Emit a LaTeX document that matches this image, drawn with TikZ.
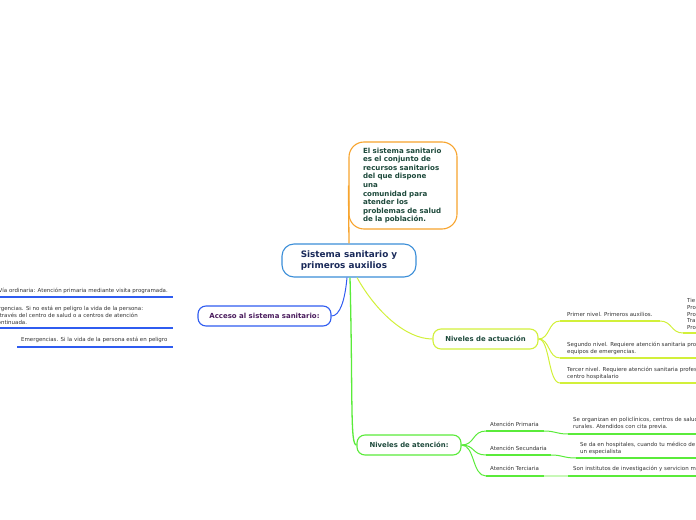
\documentclass[tikz,border=0pt]{standalone}
\usepackage{fontspec}
\setmainfont{DejaVu Sans}
\definecolor{orangec}{HTML}{F7A42E}
\definecolor{centralc}{HTML}{3B8ED8}
\definecolor{navyc}{HTML}{1A2A5A}
\definecolor{bluec}{HTML}{2F5CF0}
\definecolor{purplec}{HTML}{4B1D5E}
\definecolor{yellowc}{HTML}{D2F03A}
\definecolor{greenc}{HTML}{5AEB3A}
\definecolor{lightgreenc}{HTML}{C8F8B8}
\definecolor{darkgreenc}{HTML}{1E4A3C}
\definecolor{leafc}{HTML}{333333}
\begin{document}
\begin{tikzpicture}[x=1bp,y=-1bp,
  topic/.style={draw, fill=white, line width=1.1bp, inner sep=0pt, align=center},
  leaf/.style={anchor=west, inner sep=0pt, align=left, text=leafc, font=\fontsize{5.5}{6.8}\selectfont},
  conn/.style={line width=1bp},
  uline/.style={line width=2bp}]
\useasboundingbox (0,0) rectangle (696,520);
\clip (0,0) rectangle (696,520);

% main nodes
\node[topic, draw=centralc, rounded corners=12bp, minimum width=134bp, minimum height=33bp,
  text=navyc, font=\bfseries\fontsize{8.9}{11}\selectfont, align=left] (central) at (349,260.5)
  {Sistema sanitario y\\primeros auxilios};
\node[topic, draw=orangec, rounded corners=15bp, minimum width=108bp, minimum height=87bp,
  text width=80bp, inner xsep=14bp, align=left, text=darkgreenc,
  font=\bfseries\fontsize{7.1}{8.6}\selectfont] (def) at (403,185.5)
  {El sistema sanitario\\es el conjunto de\\recursos sanitarios\\del que dispone\\una\\comunidad para\\atender los\\problemas de salud\\de la población.};
\node[topic, draw=bluec, rounded corners=8bp, minimum width=133bp, minimum height=20bp,
  text=purplec, font=\bfseries\fontsize{7}{8}\selectfont] (acceso) at (264.5,316)
  {Acceso al sistema sanitario:};
\node[topic, draw=yellowc, rounded corners=8bp, minimum width=105bp, minimum height=20bp,
  text=darkgreenc, font=\bfseries\fontsize{6.9}{8}\selectfont] (actuacion) at (485.5,339)
  {Niveles de actuación};
\node[topic, draw=greenc, rounded corners=8bp, minimum width=104bp, minimum height=20bp,
  text=darkgreenc, font=\bfseries\fontsize{6.9}{8}\selectfont] (atencion) at (409,445)
  {Niveles de atención:};

% main connectors
\draw[conn, orangec, line width=1.3bp] (central.north) -- (def.west);
\draw[conn, bluec] ([xshift=-2bp]central.south) .. controls (345,300) and (340,316) .. (acceso.east);
\draw[conn, yellowc] ([xshift=8bp]central.south) .. controls (375,310) and (405,339) .. (actuacion.west);
\draw[conn, greenc, line width=1.3bp] ([xshift=1bp]central.south) .. controls (353,400) and (350,445) .. (atencion.west);

% left leaves (Acceso)
\node[leaf] (l1) at (-1.5,291) {Vía ordinaria: Atención primaria mediante visita programada.};
\coordinate (l1a) at (0,297); \coordinate (l1b) at (173,297);
\draw[uline, bluec] (l1a) -- (l1b);
\node[leaf] (l2) at (-5.5,315.5) {Urgencias. Si no está en peligro la vida de la persona:\\a través del centro de salud o a centros de atención\\continuada.};
\coordinate (l2a) at (0,328); \coordinate (l2b) at (173,328);
\draw[uline, bluec] (l2a) -- (l2b);
\node[leaf] (l3) at (21,340) {Emergencias. Si la vida de la persona está en peligro};
\coordinate (l3a) at (17,347); \coordinate (l3b) at (173,347);
\draw[uline, bluec] (l3a) -- (l3b);

% Niveles de actuación leaves
\coordinate (p1a) at (560,321); \coordinate (p1b) at (660,321);
\coordinate (p2a) at (560,358); \coordinate (p2b) at (696,358);
\coordinate (p3a) at (560,383); \coordinate (p3b) at (696,383);
\coordinate (p4a) at (683,333); \coordinate (p4b) at (700,333);
\draw[conn, yellowc] (actuacion.east) .. controls (550,339) and (548,321) .. (p1a);
\draw[conn, yellowc] (actuacion.east) .. controls (550,339) and (548,358) .. (p2a);
\draw[conn, yellowc] (actuacion.east) .. controls (550,339) and (548,383) .. (p3a);
\draw[conn, yellowc] (p1b) .. controls (672,321) and (671,333) .. (p4a);
\draw[uline, yellowc] (p1a) -- (p1b);
\draw[uline, yellowc] (p2a) -- (p2b);
\draw[uline, yellowc] (p3a) -- (p3b);
\draw[uline, yellowc] (p4a) -- (p4b);
\node[leaf] (p1) at (567,314.5) {Primer nivel. Primeros auxilios.};
\node[leaf] (p4) at (687,314) {Tie\\Pro\\Pro\\Tra\\Pro};
\node[leaf] (p2) at (567,348.5) {Segundo nivel. Requiere atención sanitaria profesional\\equipos de emergencias.};
\node[leaf] (p3) at (567,373.5) {Tercer nivel. Requiere atención sanitaria profesional\\centro hospitalario};

% Niveles de atención leaves
\coordinate (a1a) at (486,431); \coordinate (a1b) at (544,431);
\coordinate (a2a) at (486,455); \coordinate (a2b) at (551,455);
\coordinate (a3a) at (486,476); \coordinate (a3b) at (544,476);
\coordinate (b1a) at (568,434); \coordinate (b1b) at (696,434);
\coordinate (b2a) at (576,458); \coordinate (b2b) at (696,458);
\coordinate (b3a) at (568,476); \coordinate (b3b) at (696,476);
\draw[conn, greenc] (atencion.east) .. controls (475,445) and (472,431) .. (a1a);
\draw[conn, greenc] (atencion.east) .. controls (475,445) and (472,455) .. (a2a);
\draw[conn, greenc] (atencion.east) .. controls (475,445) and (472,476) .. (a3a);
\draw[conn, greenc] (a1b) .. controls (556,431) and (556,434) .. (b1a);
\draw[conn, greenc] (a2b) .. controls (563,455) and (563,458) .. (b2a);
\draw[uline, lightgreenc] (a3b) -- (b3a);
\draw[uline, greenc] (a1a) -- (a1b);
\draw[uline, greenc] (a2a) -- (a2b);
\draw[uline, greenc] (a3a) -- (a3b);
\draw[uline, greenc] (b1a) -- (b1b);
\draw[uline, greenc] (b2a) -- (b2b);
\draw[uline, greenc] (b3a) -- (b3b);
\node[leaf] (a1) at (490,424) {Atención Primaria};
\node[leaf] (a2) at (490,448) {Atención Secundaria};
\node[leaf] (a3) at (490,468.5) {Atención Terciaria};
\node[leaf] (b1) at (573,423.5) {Se organizan en policlínicos, centros de salud\\rurales. Atendidos con cita previa.};
\node[leaf] (b2) at (580,448.5) {Se da en hospitales, cuando tu médico de\\un especialista};
\node[leaf] (b3) at (573,468.5) {Son institutos de investigación y servicion m};
\end{tikzpicture}
\end{document}
